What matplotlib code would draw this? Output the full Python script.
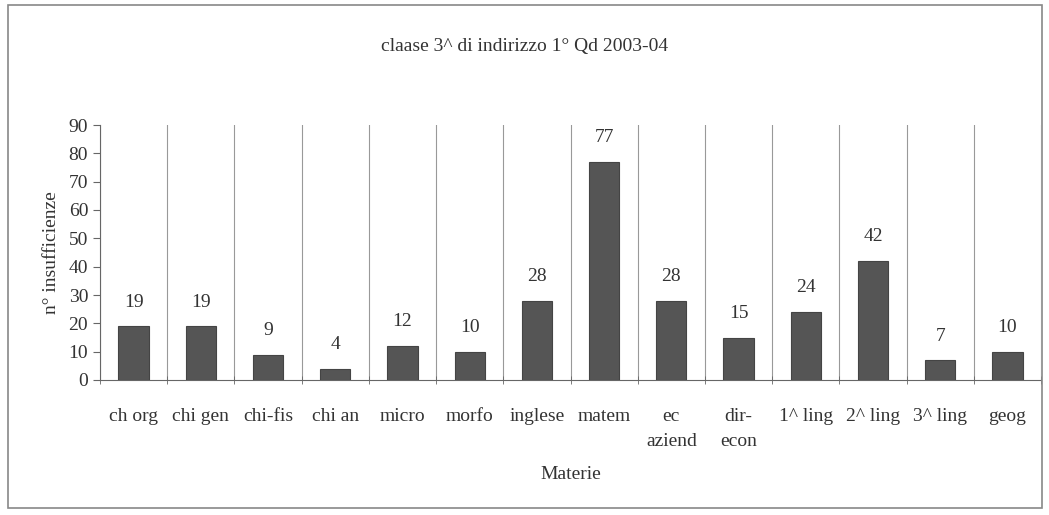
import matplotlib
matplotlib.use('Agg')
import matplotlib.pyplot as plt
from matplotlib.patches import Rectangle
import numpy as np

materie = ['ch org', 'chi gen', 'chi-fis', 'chi an', 'micro', 'morfo', 'inglese',
           'matem', 'ec\naziend', 'dir-\necon', '1^ ling', '2^ ling', '3^ ling', 'geog']
insufficienze = [19, 19, 9, 4, 12, 10, 28, 77, 28, 15, 24, 42, 7, 10]

plt.rcParams['font.family'] = ['Liberation Serif', 'DejaVu Serif']
txt = '#333333'

fig = plt.figure(figsize=(10.49, 5.15), dpi=100)
fig.patches.append(Rectangle((8 / 1049, 7 / 515), 1034 / 1049, 503 / 515,
                             transform=fig.transFigure, fill=False,
                             edgecolor='#888888', linewidth=1.2))
ax = fig.add_axes([100 / 1049, 1 - 380 / 515, 941 / 1049, 255 / 515])

x = np.arange(len(materie))
ax.bar(x, insufficienze, width=0.45, color='#555555', edgecolor='#444444', linewidth=0.8, zorder=3)
for xi, v in zip(x, insufficienze):
    ax.text(xi, v + 5.5, str(v), ha='center', va='bottom', fontsize=14, color=txt)

ax.set_xlim(-0.5, len(materie) - 0.5)
ax.set_ylim(0, 90)
ax.set_yticks(range(0, 91, 10))
ax.set_xticks(x)
ax.set_xticklabels(materie, fontsize=14, color=txt, va='top', linespacing=1.6)
ax.set_xticks(np.arange(len(materie) + 1) - 0.5, minor=True)
ax.tick_params(axis='x', which='major', length=0, pad=20)
ax.tick_params(axis='x', which='minor', length=6, color='#666666', direction='inout')
ax.tick_params(axis='y', labelsize=14, labelcolor=txt, length=5, color='#666666')
ax.grid(True, which='minor', axis='x', color='#999999', linewidth=0.8)
for s in ['top', 'right']:
    ax.spines[s].set_visible(False)
ax.spines['left'].set_color('#666666')
ax.spines['bottom'].set_color('#666666')

ax.set_xlabel('Materie', fontsize=14, color=txt, labelpad=12)
ax.set_ylabel('n° insufficienze', fontsize=14, color=txt, labelpad=6)
fig.text(0.5, 1 - 47 / 515, 'claase 3^ di indirizzo 1° Qd 2003-04', ha='center', va='center',
         fontsize=14, color=txt)

fig.savefig('out.png', dpi=100)
